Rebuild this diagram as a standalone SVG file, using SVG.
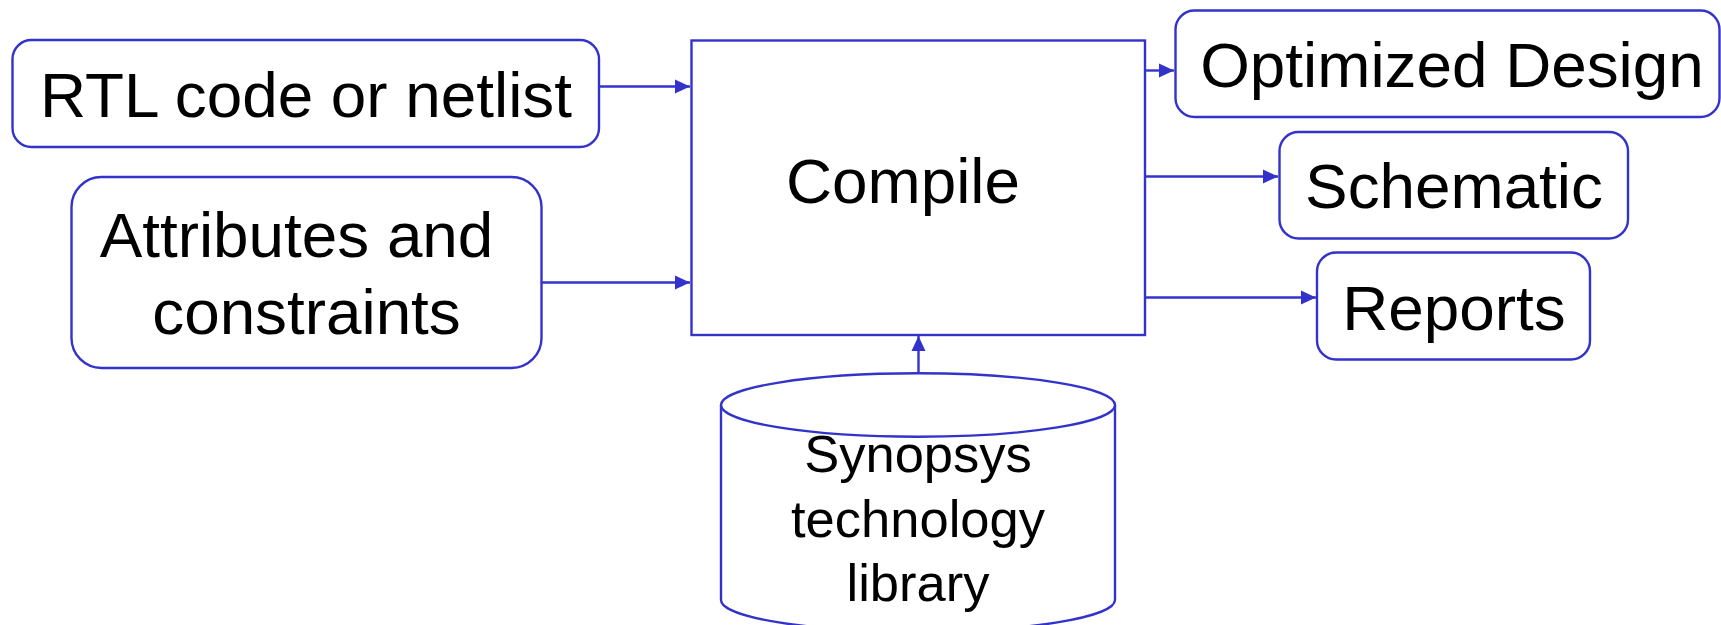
<svg xmlns="http://www.w3.org/2000/svg" width="1721" height="625" viewBox="0 0 1721 625">
  <style>
    .box { fill: #ffffff; stroke: #3333cc; stroke-width: 2.4; }
    .wire { fill: none; stroke: #3333cc; stroke-width: 2.4; }
    .lbl { font-family: "Liberation Sans", Arial, sans-serif; font-size: 63.8px; fill: #000000; text-anchor: middle; }
    .lib { font-family: "Liberation Sans", Arial, sans-serif; font-size: 52.5px; fill: #000000; text-anchor: middle; }
  </style>
  <defs>
    <marker id="head" markerUnits="userSpaceOnUse" markerWidth="17" markerHeight="17" viewBox="0 0 17 17" refX="16" refY="8.5" orient="auto">
      <path d="M1,1.5 L16,8.5 L1,15.5 Z" fill="#3333cc"/>
    </marker>
  </defs>
  <rect width="1721" height="625" fill="#ffffff"/>

  <g id="connectors">
    <line class="wire" x1="599" y1="86.5" x2="690" y2="86.5" marker-end="url(#head)"/>
    <line class="wire" x1="541.5" y1="282.5" x2="690" y2="282.5" marker-end="url(#head)"/>
    <line class="wire" x1="1145" y1="70.5" x2="1174" y2="70.5" marker-end="url(#head)"/>
    <line class="wire" x1="1145" y1="176.5" x2="1278" y2="176.5" marker-end="url(#head)"/>
    <line class="wire" x1="1145" y1="297.5" x2="1316" y2="297.5" marker-end="url(#head)"/>
    <line class="wire" x1="918.5" y1="373" x2="918.5" y2="336" marker-end="url(#head)"/>
  </g>

  <g id="rtl">
    <rect class="box" x="12.5" y="40" width="586.5" height="107" rx="19" ry="19"/>
    <text class="lbl" x="306" y="117">RTL code or netlist</text>
  </g>

  <g id="attributes">
    <rect class="box" x="71.5" y="177" width="470" height="191" rx="30" ry="30"/>
    <text class="lbl" x="296.5" y="257">Attributes and</text>
    <text class="lbl" x="306.5" y="334">constraints</text>
  </g>

  <g id="compile">
    <rect class="box" x="691.5" y="40.5" width="453.5" height="294.5"/>
    <text class="lbl" x="903" y="203">Compile</text>
  </g>

  <g id="optimized">
    <rect class="box" x="1175.5" y="10.5" width="544" height="106.5" rx="19" ry="19"/>
    <text class="lbl" x="1452" y="87">Optimized Design</text>
  </g>

  <g id="schematic">
    <rect class="box" x="1279.5" y="132" width="348.5" height="106.5" rx="19" ry="19"/>
    <text class="lbl" x="1454" y="208">Schematic</text>
  </g>

  <g id="reports">
    <rect class="box" x="1317" y="252.5" width="273" height="107" rx="19" ry="19"/>
    <text class="lbl" x="1454" y="330">Reports</text>
  </g>

  <g id="library">
    <path class="box" d="M721,405 L721,600 A197,31.7 0 0 0 1115,600 L1115,405"/>
    <ellipse class="box" cx="918" cy="405" rx="197" ry="31.7"/>
    <text class="lib" x="918" y="471.5">Synopsys</text>
    <text class="lib" x="918" y="536.5">technology</text>
    <text class="lib" x="918" y="600.5">library</text>
  </g>
</svg>
